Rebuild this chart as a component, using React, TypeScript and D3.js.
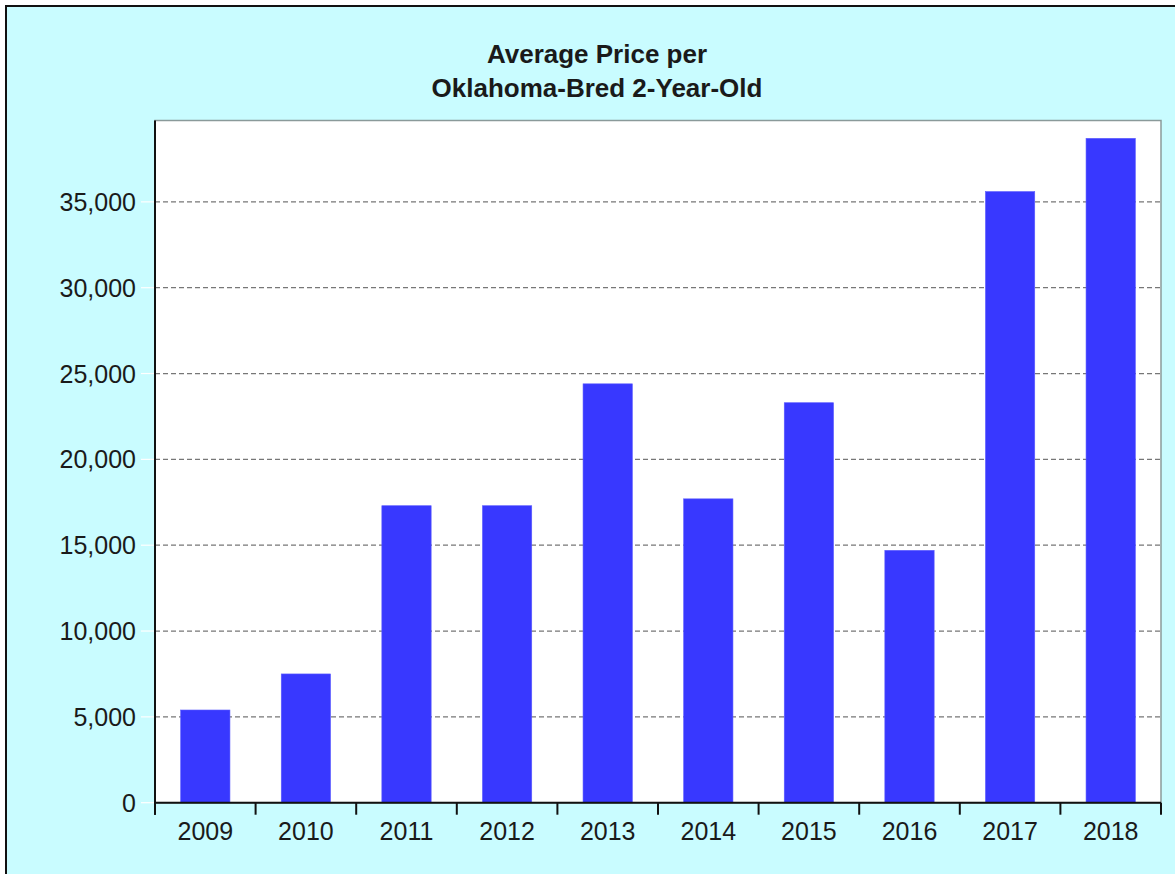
import React from "react";
import * as d3 from "d3";

const years = ["2009", "2010", "2011", "2012", "2013", "2014", "2015", "2016", "2017", "2018"];
const avgPrice = [5400, 7500, 17300, 17300, 24400, 17700, 23300, 14700, 35600, 38700];
const yTicks = [0, 5000, 10000, 15000, 20000, 25000, 30000, 35000];
const titleLines = ["Average Price per", "Oklahoma-Bred 2-Year-Old"];

const W = 1175;
const H = 874;
const plot = { left: 155, right: 1161, top: 120.5, bottom: 802.7 };
const yMax = 39740;

export default function App() {
  const x = d3.scaleBand<string>().domain(years).range([plot.left, plot.right]).paddingInner(0.51).paddingOuter(0.255);
  const xb = d3.scaleBand<string>().domain(years).range([plot.left, plot.right]);
  const y = d3.scaleLinear().domain([0, yMax]).range([plot.bottom, plot.top]);
  const fmt = d3.format(",");
  const font = "'Liberation Sans', Arial, sans-serif";
  const boundaries = [...years.map((yr) => xb(yr) as number), plot.right];

  return (
    <svg width={W} height={H} style={{ position: "absolute", left: 0, top: 0, display: "block" }} fontFamily={font}>
      <rect x={0} y={0} width={W} height={H} fill="#ffffff" />
      <rect x={6} y={6} width={W + 10} height={H + 10} fill="#c9fcff" stroke="#111" strokeWidth={2} />
      {titleLines.map((t, i) => (
        <text key={t} x={597} y={63 + i * 34} textAnchor="middle" fontWeight="bold" fontSize={26} fill="#1a1a1a">
          {t}
        </text>
      ))}
      <rect x={plot.left} y={plot.top} width={plot.right - plot.left} height={plot.bottom - plot.top} fill="#ffffff" stroke="#8a9a9a" strokeWidth={1.5} />
      {yTicks.filter((v) => v > 0).map((v) => (
        <line key={v} x1={plot.left} x2={plot.right} y1={y(v)} y2={y(v)} stroke="#777" strokeWidth={1.2} strokeDasharray="5,3" />
      ))}
      {years.map((yr, i) => (
        <rect key={yr} x={x(yr)} y={y(avgPrice[i])} width={x.bandwidth()} height={plot.bottom - y(avgPrice[i])} fill="#3838ff" stroke="#5a5aff" strokeWidth={0.6} />
      ))}
      {yTicks.map((v) => (
        <g key={v}>
          <line x1={plot.left - 14} x2={plot.left} y1={y(v)} y2={y(v)} stroke="#ffffff" strokeWidth={1.2} />
          <text x={136} y={y(v)} dy="0.36em" textAnchor="end" fontSize={25} fill="#1a1a1a">
            {fmt(v)}
          </text>
        </g>
      ))}
      <line x1={plot.left} x2={plot.left} y1={plot.top} y2={plot.bottom + 12} stroke="#111" strokeWidth={2} />
      <line x1={plot.left} x2={plot.right} y1={plot.bottom} y2={plot.bottom} stroke="#111" strokeWidth={2} />
      {boundaries.map((bx, i) => (
        <line key={i} x1={bx} x2={bx} y1={plot.bottom} y2={plot.bottom + 12} stroke="#111" strokeWidth={2} />
      ))}
      {years.map((yr) => (
        <text key={yr} x={(xb(yr) as number) + xb.bandwidth() / 2} y={840} textAnchor="middle" fontSize={25} fill="#1a1a1a">
          {yr}
        </text>
      ))}
    </svg>
  );
}
